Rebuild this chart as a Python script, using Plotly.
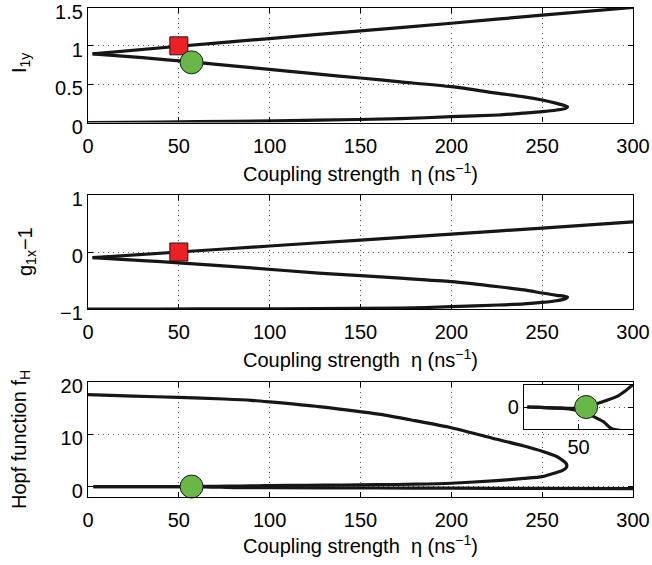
import plotly.graph_objects as go

# ---------------- data ----------------
# Panel 1: I_1y vs coupling strength eta
eta_I_up = [2.5, 50, 100, 150, 200, 250, 300]
I_up = [0.895, 0.995, 1.095, 1.195, 1.295, 1.4, 1.5]
eta_I_lo = [2.5, 30, 57, 90, 127, 150, 172, 200, 226, 240, 250, 258, 262, 264,
            263, 258, 250, 240, 226, 200, 172, 127, 80, 40, 0]
I_lo = [0.895, 0.845, 0.79, 0.715, 0.63, 0.58, 0.53, 0.467, 0.38, 0.335, 0.293, 0.25, 0.225, 0.206,
        0.185, 0.163, 0.141, 0.122, 0.098, 0.076, 0.05, 0.03, 0.015, 0.006, 0.0]

# Panel 2: g_1x - 1
eta_g_up = [2.5, 50, 100, 150, 200, 250, 300]
g_up = [-0.1, 0.0, 0.105, 0.21, 0.315, 0.42, 0.53]
eta_g_lo = [2.5, 30, 50, 90, 127, 150, 172, 200, 226, 240, 250, 258, 262, 264,
            263, 258, 250, 240, 226, 200, 172, 127, 80, 40, 0]
g_lo = [-0.1, -0.15, -0.19, -0.28, -0.37, -0.415, -0.46, -0.52, -0.61, -0.665, -0.72, -0.76, -0.775, -0.79,
        -0.815, -0.855, -0.885, -0.91, -0.93, -0.96, -0.985, -0.993, -0.997, -1.0, -1.0]

# Panel 3: Hopf function f_H
eta_fA = [0, 25, 50, 75, 90, 100, 127, 161, 180, 200, 225, 240, 250, 258, 261.5, 263, 263.6,
          263, 261, 258, 250, 240, 225, 200, 180, 160, 140, 120, 100, 94, 85, 70, 57, 48, 33, 15, 3]
fA = [17.6, 17.3, 17.05, 16.75, 16.5, 16.2, 15.3, 13.8, 12.6, 11.25, 9.05, 7.75, 6.75, 5.75, 4.95, 4.5, 4.0,
      3.5, 3.05, 2.7, 1.9, 1.55, 1.14, 0.63, 0.45, 0.35, 0.3, 0.25, 0.2, 0.154, 0.094, 0.04, 0.0, -0.012, -0.01, -0.004, 0.0]
eta_fB = [3, 15, 33, 48, 57, 64, 73, 80, 100, 160, 200, 250, 300]
fB = [0.0, -0.004, -0.01, -0.028, -0.05, -0.088, -0.134, -0.194, -0.23, -0.28, -0.32, -0.36, -0.4]

# markers
sq_eta = [50]
sq_I = [1.0]
sq_g = [0.0]
ci_eta = [57]
ci_I = [0.785]
ci_f = [0.0]

x_ticks = [0, 50, 100, 150, 200, 250, 300]
I_ticks = [0, 0.5, 1, 1.5]
g_ticks = [-1, 0, 1]
f_ticks = [0, 10, 20]

# ---------------- figure ----------------
W, H = 652, 565
LINE = dict(color="#161616", width=3.2, shape="spline", smoothing=0.6)
RED = "#ed2024"
GREEN = "#67b847"
FONT = "Liberation Sans, Arial, Helvetica, sans-serif"

fig = go.Figure()

def add_line(x, y, xa, ya):
    fig.add_trace(go.Scatter(x=x, y=y, mode="lines", line=LINE, xaxis=xa, yaxis=ya,
                             showlegend=False, hoverinfo="skip"))

def add_marker(x, y, xa, ya, symbol, color, size):
    fig.add_trace(go.Scatter(x=x, y=y, mode="markers", xaxis=xa, yaxis=ya, showlegend=False,
                             marker=dict(symbol=symbol, color=color, size=size,
                                         line=dict(color="#1a1a1a", width=1)),
                             cliponaxis=False, hoverinfo="skip"))

add_line(eta_I_up, I_up, "x", "y")
add_line(eta_I_lo, I_lo, "x", "y")
add_marker(sq_eta, sq_I, "x", "y", "square", RED, 18)
add_marker(ci_eta, ci_I, "x", "y", "circle", GREEN, 23)

add_line(eta_g_up, g_up, "x2", "y2")
add_line(eta_g_lo, g_lo, "x2", "y2")
add_marker(sq_eta, sq_g, "x2", "y2", "square", RED, 18)

add_line(eta_fA, fA, "x3", "y3")
add_line(eta_fB, fB, "x3", "y3")
add_marker(ci_eta, ci_f, "x3", "y3", "circle", GREEN, 23)

# inset
add_line(eta_fA, fA, "x4", "y4")
add_line(eta_fB, fB, "x4", "y4")
add_marker(ci_eta, ci_f, "x4", "y4", "circle", GREEN, 23)

xd = [88 / W, 633 / W]
def ydom(top, bot):
    return [(H - bot) / H, (H - top) / H]

common = dict(showline=True, linecolor="black", linewidth=1.3, mirror="allticks",
              ticks="inside", ticklen=5, tickcolor="black", showgrid=True, automargin=False,
              ticklabeloverflow="allow",
              gridcolor="#555555", griddash="1px,4px", gridwidth=1, zeroline=False,
              tickfont=dict(family=FONT, size=20, color="black"))
xcommon = dict(common, ticklabelstandoff=5)
ycommon = dict(common, ticklabelshift=4)

fig.update_layout(
    width=W, height=H, margin=dict(l=0, r=0, t=0, b=0, autoexpand=False),
    paper_bgcolor="white", plot_bgcolor="white",
    font=dict(family=FONT, size=20, color="black"),
    xaxis=dict(domain=xd, range=[0, 300], tickvals=x_ticks, anchor="y", **xcommon),
    yaxis=dict(domain=ydom(7.5, 122.5), range=[0, 1.5], tickvals=I_ticks, anchor="x", **ycommon),
    xaxis2=dict(domain=xd, range=[0, 300], tickvals=x_ticks, anchor="y2", **xcommon),
    yaxis2=dict(domain=ydom(195, 309), range=[-1, 1], tickvals=g_ticks, anchor="x2", **ycommon),
    xaxis3=dict(domain=xd, range=[0, 300], tickvals=x_ticks, anchor="y3", **xcommon),
    yaxis3=dict(domain=ydom(382, 497), range=[-2, 20], tickvals=f_ticks, anchor="x3", **ycommon),
    xaxis4=dict(domain=[524 / W, 633 / W], range=[0, 100], tickvals=[50], anchor="y4", **common),
    yaxis4=dict(domain=ydom(385, 429), range=[-0.2, 0.2], tickvals=[0], anchor="x4", **common),
)

xt = "Coupling strength\u00a0 \u03b7 (ns<sup>\u22121</sup>)"
ann = []
for ycen in [172, 358, 544]:
    ann.append(dict(text=xt, x=360.5 / W, y=(H - ycen) / H, xref="paper", yref="paper",
                    xanchor="center", yanchor="middle", showarrow=False,
                    font=dict(family=FONT, size=20, color="black")))
for txt, xc, yc in [("I<sub>1y</sub>", 20, 63), ("g<sub>1x</sub>\u22121", 26, 252),
                    ("Hopf function f<sub>H</sub>", 20, 440)]:
    ann.append(dict(text=txt, x=xc / W, y=(H - yc) / H, xref="paper", yref="paper",
                    xanchor="center", yanchor="middle", showarrow=False, textangle=-90,
                    font=dict(family=FONT, size=20, color="black")))
fig.update_layout(annotations=ann)

fig.write_html("out.html")
